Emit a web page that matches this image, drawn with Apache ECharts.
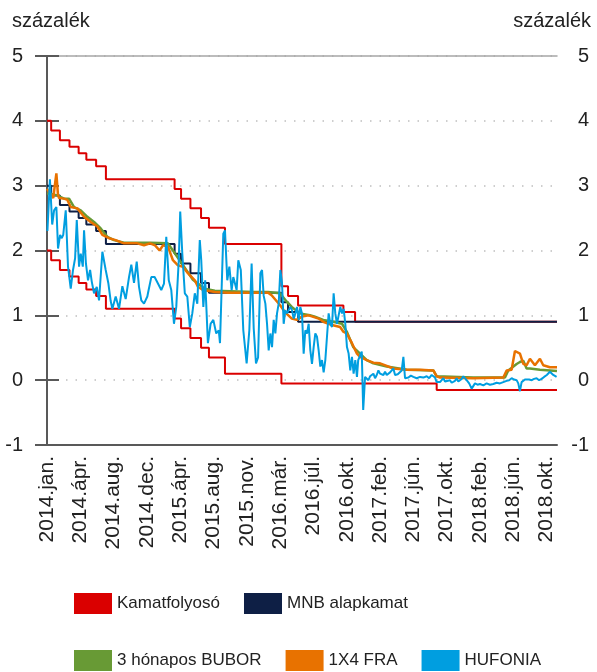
<!DOCTYPE html>
<html><head><meta charset="utf-8">
<script src="https://cdn.jsdelivr.net/npm/echarts@6/dist/echarts.min.js"></script>
<style>html,body{margin:0;padding:0;background:#fff}#c{width:597px;height:672px}</style>
</head><body><div id="c"></div>
<script>
// x = observation index (weekly-ish, 0..245); tick every 16 observations
const tickLabels = ['2014.jan.','2014.ápr.','2014.aug.','2014.dec.','2015.ápr.','2015.aug.','2015.nov.','2016.már.','2016.júl.','2016.okt.','2017.feb.','2017.jún.','2017.okt.','2018.feb.','2018.jún.','2018.okt.'];
const xMax = 245;
const tickStep = 16;

const corridorUpper = [[0,4.0],[2.0,3.85],[6.2,3.70],[10.8,3.60],[15.2,3.50],[18.9,3.40],[23.6,3.30],[28.3,3.10],[61.3,2.95],[64.4,2.80],[68.9,2.65],[74.0,2.50],[77.8,2.35],[85.5,2.10],[112.6,1.45],[115.8,1.30],[120.6,1.15],[142.4,1.05],[148.0,0.90],[245,0.90]];
const corridorLower = [[0,2.0],[2.0,1.85],[6.2,1.70],[10.8,1.60],[15.2,1.50],[18.9,1.40],[23.6,1.30],[28.3,1.10],[61.3,0.95],[64.4,0.80],[68.9,0.65],[74.0,0.50],[77.8,0.35],[85.5,0.10],[112.6,-0.05],[187.2,-0.15],[245,-0.15]];
const baseRate = [[0,3.0],[2.0,2.85],[6.2,2.70],[10.8,2.60],[15.2,2.50],[18.9,2.40],[23.6,2.30],[28.3,2.10],[61.3,1.95],[64.4,1.80],[68.9,1.65],[74.0,1.50],[77.8,1.35],[112.6,1.20],[115.8,1.05],[120.6,0.90],[245,0.90]];

const bubor = [[0,2.88],[1.0,2.88],[4.9,2.85],[8.2,2.80],[10.6,2.80],[13.0,2.67],[16.2,2.62],[19.4,2.52],[22.6,2.44],[25.8,2.34],[29.0,2.21],[32.2,2.16],[37.0,2.12],[49.5,2.12],[58.1,2.11],[60.5,2.0],[63.7,1.85],[66.9,1.70],[70.1,1.55],[72.5,1.49],[75.8,1.41],[80.6,1.38],[99.4,1.36],[106.2,1.36],[111.9,1.34],[115.2,1.21],[117.6,1.13],[121.5,1.03],[126.3,1.0],[128.7,0.98],[132.7,0.93],[137.5,0.90],[141.7,0.87],[144.0,0.75],[147.1,0.51],[150.4,0.41],[153.6,0.31],[156.8,0.26],[163.2,0.21],[172.8,0.16],[185.6,0.15],[187.2,0.06],[204.8,0.04],[220.0,0.04],[221.6,0.15],[225.6,0.25],[227.2,0.28],[228.8,0.30],[230.4,0.18],[232.0,0.18],[236.8,0.16],[245,0.14]];

const fra = [[0,2.95],[3.0,2.81],[4.5,3.19],[5.3,2.85],[5.8,2.81],[8.2,2.80],[9.8,2.78],[11.4,2.67],[14.6,2.65],[17.8,2.52],[21.0,2.44],[24.2,2.37],[26.6,2.24],[29.8,2.19],[33.0,2.16],[37.0,2.11],[43.4,2.11],[46.6,2.08],[49.5,2.11],[51.9,2.08],[54.1,2.0],[55.7,2.08],[58.1,2.06],[60.5,1.85],[62.9,1.77],[65.3,1.75],[67.7,1.65],[71.0,1.54],[72.5,1.44],[74.9,1.39],[80.6,1.36],[87.0,1.35],[99.4,1.35],[106.2,1.35],[107.9,1.31],[111.9,1.16],[114.3,1.05],[117.6,0.95],[120.0,0.93],[122.5,0.98],[125.7,1.0],[130.5,0.95],[132.7,0.90],[136.9,0.85],[140.8,0.82],[142.3,0.75],[144.0,0.72],[146.5,0.57],[148.9,0.41],[150.4,0.36],[153.6,0.31],[156.8,0.27],[160.0,0.26],[163.2,0.22],[166.4,0.18],[172.8,0.16],[179.2,0.16],[185.6,0.15],[187.2,0.06],[188.8,0.04],[204.8,0.03],[219.2,0.04],[220.8,0.15],[223.2,0.16],[224.8,0.45],[227.2,0.41],[228.8,0.25],[230.4,0.23],[232.0,0.33],[234.4,0.23],[236.8,0.33],[238.4,0.23],[239.2,0.23],[241.6,0.20],[245,0.20]];

const hufonia = [[0.2,2.3],[1.4,3.1],[2.5,2.4],[3.4,2.62],[4.5,2.67],[5.3,2.03],[6.3,2.24],[7.1,2.19],[7.8,2.24],[9.0,2.62],[10.1,1.75],[11.4,1.41],[12.5,1.70],[13.5,1.88],[14.3,2.47],[15.4,1.75],[16.2,1.95],[17.2,1.75],[17.8,2.31],[18.7,1.80],[19.7,1.54],[20.7,1.70],[21.5,1.52],[22.6,1.34],[23.9,1.44],[25.0,1.23],[26.6,1.98],[27.4,2.0],[28.2,1.70],[29.5,1.49],[30.6,1.22],[31.4,1.10],[33.0,1.29],[34.6,1.10],[36.2,1.45],[37.8,1.25],[39.4,1.59],[40.5,1.78],[41.8,1.50],[43.1,1.83],[44.2,1.44],[45.3,1.23],[46.6,1.18],[48.2,1.29],
[48.5,1.34],[50.1,1.59],[51.7,1.59],[53.3,1.49],[54.9,1.39],[56.2,1.49],[57.3,2.21],[58.5,1.54],[59.7,1.39],[61.0,0.87],[62.1,1.13],[63.3,1.85],[64.0,2.60],[65.0,1.95],[66.2,1.34],[67.4,1.29],[68.6,0.82],[69.8,1.03],[71.0,1.34],[72.2,1.18],[73.4,2.16],[74.1,1.85],[75.1,1.13],[76.0,1.54],[77.3,0.57],[78.6,0.87],[79.9,0.93],[81.3,0.72],[82.5,0.77],[83.1,0.57],[84.7,2.26],[85.5,2.31],[86.6,1.54],[87.6,1.75],[88.7,1.39],[89.5,1.59],[91.1,1.39],[91.9,1.85],[93.1,1.70],[94.3,0.77],[95.9,0.26],[97.2,0.77],[98.3,1.80],
[99.3,0.8],[100.4,0.26],[101.4,0.35],[102.5,1.65],[103.3,1.7],[104.1,1.3],[104.9,1.18],[105.7,0.87],[106.5,0.46],[107.3,0.72],[108.1,0.51],[108.9,0.93],[109.7,0.72],[110.5,1.03],[111.3,1.18],[112.1,1.70],[112.9,1.5],[113.7,0.87],[114.5,1.08],[115.3,1.03],[116.1,1.05],[116.9,1.13],[117.7,1.08],[118.5,0.95],[119.3,1.03],[120.1,1.13],[120.9,0.93],[121.7,1.13],[122.5,1.03],[123.3,0.41],[124.1,0.77],[124.9,0.72],[125.7,0.87],[126.5,0.46],[127.3,0.25],[128.1,0.51],[128.9,0.72],[129.7,0.67],[130.5,0.46],[131.3,0.21],[132.1,0.31],[132.9,0.12],[133.7,0.31],[134.5,0.67],[135.3,1.03],[136.1,0.87],[136.9,0.82],[137.7,1.34],[138.5,1.03],[139.3,0.87],[140.1,1.0],[140.9,1.13],[141.7,1.03],[142.5,1.10],[143.3,0.87],[144.1,0.51],[144.9,0.41],[145.7,0.15],[146.5,0.36],[147.3,0.10],[148.1,0.31],[148.9,0.05],[149.5,0.31],[150.4,0.31],[151.2,0.44],[151.9,-0.46],[152.8,0.05],[153.6,0.08],[154.4,0.0],[155.2,0.06],[156.0,0.05],[156.8,0.10],[157.6,0.03],[158.4,0.08],[159.2,0.15],[160.0,0.10],[160.8,0.10],[161.6,0.08],[162.4,0.13],[163.2,0.08],[164.0,0.08],[164.8,0.12],[165.6,0.11],[166.4,0.18],[167.2,0.08],[167.7,0.05],[168.5,0.09],[169.2,0.10],[170.4,0.15],[171.2,0.36],[172.0,0.03],[172.8,0.06],[173.6,0.04],[174.8,0.07],[176.0,0.05],[177.6,0.03],[179.2,0.05],[180.8,0.04],[182.4,0.06],[183.6,0.03],[184.8,0.08],[186.4,0.04],[187.2,-0.03],[188.0,-0.05],[188.8,-0.03],[189.6,0.0],[190.4,0.03],[191.2,-0.02],[192.0,-0.03],[193.6,0.0],[194.4,-0.04],[195.2,-0.05],[196.0,-0.01],[196.8,0.03],[197.6,-0.02],[198.4,-0.02],[199.2,0.02],[200.0,0.06],[201.6,0.0],[202.8,-0.05],[204.0,-0.13],[205.6,-0.05],[206.8,-0.07],[208.0,-0.06],[209.6,-0.08],[211.2,-0.05],[212.8,-0.07],[214.4,-0.06],[216.0,-0.04],[217.6,-0.05],[219.2,-0.03],[220.8,-0.01],[222.0,0.0],[223.2,0.03],[224.4,0.01],[225.6,0.0],[226.4,-0.05],[227.2,-0.17],[228.0,-0.03],[228.5,0.0],[229.6,0.01],[230.4,-0.02],[231.6,0.01],[232.8,0.0],[234.0,0.02],[235.2,0.03],[236.4,0.0],[237.6,0.02],[238.8,0.05],[240.1,0.08],[241.6,0.13],[242.4,0.10],[243.2,0.08],[244.0,0.10],[244.8,0.05]];

const C = {red:'#DA0000', navy:'#0E1F45', green:'#689A35', orange:'#E87200', blue:'#009EE0'};
const FONT = 'Liberation Sans';

const chart = echarts.init(document.getElementById('c'), null, {renderer:'canvas'});
function lineSeries(name, data, color, width, step){
  return {name, type:'line', data, step: step ? 'end' : false, symbol:'none', color,
    lineStyle:{color, width}, itemStyle:{color}, animation:false, silent:true};
}
const yAxisBase = {
  type:'value', min:-1, max:5, interval:1,
  axisLine:{show:true, lineStyle:{color:'#595959', width:2}},
  axisTick:{show:true, inside:false, length:12, lineStyle:{color:'#595959', width:2}},
  axisLabel:{fontSize:20, fontFamily:FONT, color:'#222'}
};
chart.setOption({
  animation:false,
  textStyle:{fontFamily:FONT},
  title:[
    {text:'százalék', left:7, top:6, textStyle:{fontSize:20, fontWeight:'normal', color:'#222', fontFamily:FONT}},
    {text:'százalék', right:1, top:6, textStyle:{fontSize:20, fontWeight:'normal', color:'#222', fontFamily:FONT}}
  ],
  grid:{left:47, right:40, top:56, bottom:227, containLabel:false},
  xAxis:[{
    type:'value', min:0, max:xMax, interval:tickStep,
    axisLine:{show:true, onZero:false, lineStyle:{color:'#595959', width:2}},
    axisTick:{show:false}, splitLine:{show:false},
    axisLabel:{rotate:90, margin:11, fontSize:21, fontFamily:FONT, color:'#222', showMaxLabel:false,
      formatter:v => (v % tickStep === 0 && tickLabels[v / tickStep]) ? tickLabels[v / tickStep] : ''}
  },{
    type:'value', min:0, max:xMax, position:'top',
    axisLine:{show:true, onZero:false, lineStyle:{color:'#A6A6A6', width:1.5}},
    axisTick:{show:false}, axisLabel:{show:false}, splitLine:{show:false}
  }],
  yAxis:[
    Object.assign({}, yAxisBase, {position:'left', axisLabel:Object.assign({}, yAxisBase.axisLabel, {margin:24}),
      splitLine:{show:true, lineStyle:{color:'#BFBFBF', width:1.5, type:[1.5,8]}}}),
    Object.assign({}, yAxisBase, {position:'right', axisLabel:Object.assign({}, yAxisBase.axisLabel, {margin:32, align:'right'}),
      splitLine:{show:false}})
  ],
  legend:[
    {data:['Kamatfolyosó','MNB alapkamat'], left:74, top:593, icon:'rect', itemWidth:38, itemHeight:21, itemGap:24,
      padding:0, textStyle:{fontSize:17, fontFamily:FONT, color:'#222'}, selectedMode:false},
    {data:['3 hónapos BUBOR','1X4 FRA','HUFONIA'], left:74, top:650, icon:'rect', itemWidth:38, itemHeight:21, itemGap:24,
      padding:0, textStyle:{fontSize:17, fontFamily:FONT, color:'#222'}, selectedMode:false}
  ],
  series:[
    lineSeries('Kamatfolyosó', corridorUpper, C.red, 2, true),
    lineSeries('Kamatfolyosó', corridorLower, C.red, 2, true),
    lineSeries('MNB alapkamat', baseRate, C.navy, 2, true),
    lineSeries('3 hónapos BUBOR', bubor, C.green, 2.5, false),
    lineSeries('1X4 FRA', fra, C.orange, 2.5, false),
    lineSeries('HUFONIA', hufonia, C.blue, 2, false)
  ]
});
</script></body></html>
